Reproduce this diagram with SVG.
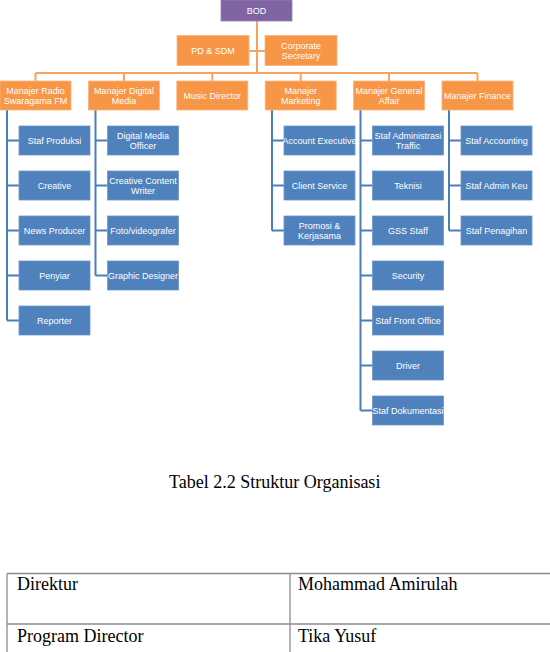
<svg xmlns="http://www.w3.org/2000/svg" width="550" height="652" viewBox="0 0 550 652">
<style>
.bg{fill:#ffffff}
.top{fill:#8064A2;stroke:#9a82b8;stroke-width:0.8}
.org{fill:#F79646;stroke:#f9b47a;stroke-width:0.8}
.blu{fill:#4F81BD;stroke:#6f97c9;stroke-width:0.8}
.t{font-family:"Liberation Sans",Arial,sans-serif;font-size:9px;fill:#ffffff;text-anchor:middle;dominant-baseline:central}
.oc{stroke:#F4A460;stroke-width:2;fill:none}
.bc{stroke:#4A7EBB;stroke-width:2;fill:none}
.cap{font-family:"Liberation Serif","Times New Roman",serif;font-size:18px;fill:#000000}
.tb{stroke:#8c8c8c;stroke-width:1.3;fill:none}
</style>
<rect class="bg" x="0" y="0" width="550" height="652"/>

<g id="connectors">
  <path class="oc" d="M257 21V73M249 51H265M35.5 73H477.5M35.5 73V81M123.9 73V81M212.3 73V81M300.7 73V81M389.1 73V81M477.5 73V81"/>
  <path class="bc" d="M7 110V320.5M7 140.5H19M7 185.5H19M7 230.5H19M7 275.5H19M7 320.5H19"/>
  <path class="bc" d="M95.5 110V275.5M95.5 140.5H107.5M95.5 185.5H107.5M95.5 230.5H107.5M95.5 275.5H107.5"/>
  <path class="bc" d="M272 110V230.5M272 140.5H284M272 185.5H284M272 230.5H284"/>
  <path class="bc" d="M360.5 110V410.5M360.5 140.5H372.5M360.5 185.5H372.5M360.5 230.5H372.5M360.5 275.5H372.5M360.5 320.5H372.5M360.5 365.5H372.5M360.5 410.5H372.5"/>
  <path class="bc" d="M449 110V230.5M449 140.5H461M449 185.5H461M449 230.5H461"/>
</g>

<g id="bod"><rect class="top" x="221" y="0" width="71" height="21"/><text class="t" x="256.5" y="10.5">BOD</text></g>
<g id="pd-sdm"><rect class="org" x="177" y="35.5" width="72" height="30"/><text class="t" x="213" y="50.5">PD &amp; SDM</text></g>
<g id="corporate-secretary"><rect class="org" x="265" y="35.5" width="72" height="30"/><text class="t" x="301" y="46">Corporate</text><text class="t" x="301" y="55.5">Secretary</text></g>

<g id="mgr-radio"><rect class="org" x="0" y="81" width="71" height="29"/><text class="t" x="35.5" y="91">Manajer Radio</text><text class="t" x="35.5" y="100.5">Swaragama FM</text></g>
<g id="mgr-digital"><rect class="org" x="88.4" y="81" width="71" height="29"/><text class="t" x="123.9" y="91">Manajer Digital</text><text class="t" x="123.9" y="100.5">Media</text></g>
<g id="music-director"><rect class="org" x="176.8" y="81" width="71" height="29"/><text class="t" x="212.3" y="95.5">Music Director</text></g>
<g id="mgr-marketing"><rect class="org" x="265.2" y="81" width="71" height="29"/><text class="t" x="300.7" y="91">Manajer</text><text class="t" x="300.7" y="100.5">Marketing</text></g>
<g id="mgr-ga"><rect class="org" x="353.6" y="81" width="71" height="29"/><text class="t" x="389.1" y="91">Manajer General</text><text class="t" x="389.1" y="100.5">Affair</text></g>
<g id="mgr-finance"><rect class="org" x="442" y="81" width="71" height="29"/><text class="t" x="477.5" y="95.5">Manajer Finance</text></g>

<g id="staf-produksi"><rect class="blu" x="19" y="126" width="71" height="29"/><text class="t" x="54.5" y="140.5">Staf Produksi</text></g>
<g id="creative"><rect class="blu" x="19" y="171" width="71" height="29"/><text class="t" x="54.5" y="185.5">Creative</text></g>
<g id="news-producer"><rect class="blu" x="19" y="216" width="71" height="29"/><text class="t" x="54.5" y="230.5">News Producer</text></g>
<g id="penyiar"><rect class="blu" x="19" y="261" width="71" height="29"/><text class="t" x="54.5" y="275.5">Penyiar</text></g>
<g id="reporter"><rect class="blu" x="19" y="306" width="71" height="29"/><text class="t" x="54.5" y="320.5">Reporter</text></g>

<g id="digital-media-officer"><rect class="blu" x="107.5" y="126" width="71" height="29"/><text class="t" x="143" y="136">Digital Media</text><text class="t" x="143" y="145.5">Officer</text></g>
<g id="creative-content-writer"><rect class="blu" x="107.5" y="171" width="71" height="29"/><text class="t" x="143" y="181">Creative Content</text><text class="t" x="143" y="190.5">Writer</text></g>
<g id="foto-videografer"><rect class="blu" x="107.5" y="216" width="71" height="29"/><text class="t" x="143" y="230.5">Foto/videografer</text></g>
<g id="graphic-designer"><rect class="blu" x="107.5" y="261" width="71" height="29"/><text class="t" x="143" y="275.5">Graphic Designer</text></g>

<g id="account-executive"><rect class="blu" x="284" y="126" width="71" height="29"/><text class="t" x="319.5" y="140.5">Account Executive</text></g>
<g id="client-service"><rect class="blu" x="284" y="171" width="71" height="29"/><text class="t" x="319.5" y="185.5">Client Service</text></g>
<g id="promosi-kerjasama"><rect class="blu" x="284" y="216" width="71" height="29"/><text class="t" x="319.5" y="226">Promosi &amp;</text><text class="t" x="319.5" y="235.5">Kerjasama</text></g>

<g id="staf-administrasi-traffic"><rect class="blu" x="372.5" y="126" width="71" height="29"/><text class="t" x="408" y="136">Staf Administrasi</text><text class="t" x="408" y="145.5">Traffic</text></g>
<g id="teknisi"><rect class="blu" x="372.5" y="171" width="71" height="29"/><text class="t" x="408" y="185.5">Teknisi</text></g>
<g id="gss-staff"><rect class="blu" x="372.5" y="216" width="71" height="29"/><text class="t" x="408" y="230.5">GSS Staff</text></g>
<g id="security"><rect class="blu" x="372.5" y="261" width="71" height="29"/><text class="t" x="408" y="275.5">Security</text></g>
<g id="staf-front-office"><rect class="blu" x="372.5" y="306" width="71" height="29"/><text class="t" x="408" y="320.5">Staf Front Office</text></g>
<g id="driver"><rect class="blu" x="372.5" y="351" width="71" height="29"/><text class="t" x="408" y="365.5">Driver</text></g>
<g id="staf-dokumentasi"><rect class="blu" x="372.5" y="396" width="71" height="29"/><text class="t" x="408" y="410.5">Staf Dokumentasi</text></g>

<g id="staf-accounting"><rect class="blu" x="461" y="126" width="71" height="29"/><text class="t" x="496.5" y="140.5">Staf Accounting</text></g>
<g id="staf-admin-keu"><rect class="blu" x="461" y="171" width="71" height="29"/><text class="t" x="496.5" y="185.5">Staf Admin Keu</text></g>
<g id="staf-penagihan"><rect class="blu" x="461" y="216" width="71" height="29"/><text class="t" x="496.5" y="230.5">Staf Penagihan</text></g>

<text class="cap" x="169" y="488">Tabel 2.2 Struktur Organisasi</text>

<g id="table">
  <path class="tb" d="M7 573.5H551M7 624H551M7 573.5V653M290 573.5V653"/>
  <text class="cap" x="17" y="590">Direktur</text>
  <text class="cap" x="298" y="590">Mohammad Amirulah</text>
  <text class="cap" x="17" y="642">Program Director</text>
  <text class="cap" x="298" y="642">Tika Yusuf</text>
</g>
</svg>
